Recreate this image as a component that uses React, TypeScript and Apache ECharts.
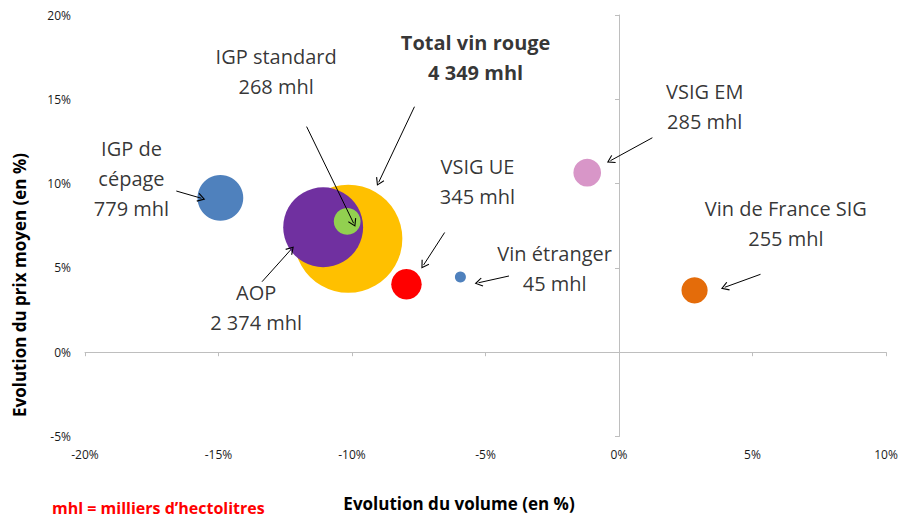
import React, { useEffect, useRef } from 'react';
import * as echarts from 'echarts';

// ---- Data ----
const categories = ['Total vin rouge', 'AOP', 'IGP standard', 'IGP de cépage', 'VSIG UE', 'Vin étranger', 'VSIG EM', 'Vin de France SIG'];
const volumeChange = [-10.14, -11.08, -10.18, -14.93, -7.96, -5.94, -1.19, 2.83]; // % x
const priceChange = [6.73, 7.41, 7.76, 9.15, 4.03, 4.46, 10.65, 3.67]; // % y
const volumes = [4349, 2374, 268, 779, 345, 45, 285, 255]; // mhl

const xTicks = { min: -20, max: 10, interval: 5 };
const yTicks = { min: -5, max: 20, interval: 5 };

// ---- Styles ----
const bubbleColors = ['#FFC000', '#7030A0', '#92D050', '#4F81BD', '#FF0000', '#4F81BD', '#D896C8', '#E46C0A'];

// ---- Annotations (data coordinates) ----
const labelNames = ['Total vin rouge', 'AOP', 'IGP standard', 'IGP de\ncépage', 'VSIG UE', 'Vin étranger', 'VSIG EM', 'Vin de France SIG'];
const labelPos: [number, number][] = [
  [-5.37, 17.48],
  [-13.59, 2.68],
  [-12.84, 16.62],
  [-18.26, 10.3],
  [-5.3, 10.15],
  [-2.41, 4.96],
  [3.21, 14.55],
  [6.25, 7.66],
];
const arrowFrom: [number, number][] = [
  [-7.66, 14.56],
  [-13.37, 4.18],
  [-11.7, 13.38],
  [-16.58, 9.56],
  [-6.53, 7.1],
  [-4.12, 4.52],
  [1.25, 12.72],
  [5.3, 4.62],
];
const arrowTo: [number, number][] = [
  [-9.0, 10.08],
  [-12.28, 6.1],
  [-9.94, 7.65],
  [-15.64, 9.13],
  [-7.32, 5.17],
  [-5.26, 4.12],
  [-0.32, 11.36],
  [3.96, 3.85],
];

const FONT = 'Open Sans';
const fmtVol = (v: number) => String(v).replace(/\B(?=(\d{3})+(?!\d))/g, ' ');
const chevron = 'path://M5,0L10,7.3L9,8L5,2.1L1,8L0,7.3Z';

export default function App() {
  const ref = useRef<HTMLDivElement>(null);
  useEffect(() => {
    document.body.style.margin = '0';
    const chart = echarts.init(ref.current!, null, { renderer: 'svg' });
    const axisLabelStyle = { color: '#1a1a1a', fontSize: 12, fontFamily: FONT };
    const option: any = {
      animation: false,
      grid: { left: 85, right: 15, top: 15, bottom: 82.5, containLabel: false },
      xAxis: [
        {
          type: 'value', ...xTicks, position: 'bottom',
          axisLine: { show: false, onZero: false }, axisTick: { show: false }, splitLine: { show: false },
          axisLabel: { ...axisLabelStyle, formatter: '{value}%', margin: 12 },
        },
        {
          type: 'value', ...xTicks, position: 'top',
          axisLine: { show: true, onZero: true, lineStyle: { color: '#BEBEBE', width: 1 } },
          axisTick: { show: true, inside: true, length: 4, lineStyle: { color: '#BEBEBE' } },
          axisLabel: { show: false }, splitLine: { show: false },
        },
      ],
      yAxis: [
        {
          type: 'value', ...yTicks, position: 'left',
          axisLine: { show: false, onZero: false }, axisTick: { show: false }, splitLine: { show: false },
          axisLabel: { ...axisLabelStyle, formatter: '{value}%', margin: 14 },
        },
        {
          type: 'value', ...yTicks, position: 'right',
          axisLine: { show: true, onZero: true, lineStyle: { color: '#BEBEBE', width: 1 } },
          axisTick: { show: true, inside: true, length: 4, lineStyle: { color: '#BEBEBE' } },
          axisLabel: { show: false }, splitLine: { show: false },
        },
      ],
      series: [
        {
          type: 'scatter',
          xAxisIndex: 0, yAxisIndex: 0,
          silent: true,
          symbolSize: (val: number[]) => 1.64 * Math.sqrt(val[2]),
          data: categories.map((c, i) => ({
            name: c,
            value: [volumeChange[i], priceChange[i], volumes[i]],
            itemStyle: { color: bubbleColors[i], opacity: 1 },
          })),
          z: 2,
        },
        {
          type: 'scatter',
          xAxisIndex: 0, yAxisIndex: 0,
          silent: true,
          symbolSize: 1,
          itemStyle: { color: 'rgba(0,0,0,0)' },
          label: {
            show: true, position: 'inside', formatter: '{b}', color: '#000',
            fontSize: 20, fontFamily: FONT, lineHeight: 30, align: 'center', verticalAlign: 'middle',
          },
          data: labelNames.map((n, i) => ({
            name: `${n}\n${fmtVol(volumes[i])} mhl`,
            value: labelPos[i],
            label: i === 0 ? { fontWeight: 'bold' } : undefined,
          })),
          markLine: {
            silent: true,
            symbol: ['none', chevron],
            symbolSize: [9, 8],
            label: { show: false },
            lineStyle: { color: '#000', width: 1, type: 'solid' },
            emphasis: { disabled: true },
            data: arrowFrom.map((f, i) => [{ coord: f }, { coord: arrowTo[i] }]),
          },
          z: 3,
        },
      ],
      graphic: [
        {
          type: 'text', x: 459, y: 503,
          style: { text: 'Evolution du volume (en %)', fontSize: 17, fontWeight: 'bold', fontFamily: FONT, fill: '#000', align: 'center', verticalAlign: 'middle' },
        },
        {
          type: 'text', x: 19, y: 285, rotation: Math.PI / 2,
          style: { text: 'Evolution du prix moyen (en %)', fontSize: 17, fontWeight: 'bold', fontFamily: FONT, fill: '#000', align: 'center', verticalAlign: 'middle' },
        },
        {
          type: 'text', x: 52, y: 508,
          style: { text: 'mhl = milliers d’hectolitres', fontSize: 16, fontWeight: 'bold', fontFamily: FONT, fill: '#FF0000', align: 'left', verticalAlign: 'middle' },
        },
      ],
    };
    chart.setOption(option);
    return () => chart.dispose();
  }, []);
  return <div ref={ref} style={{ width: 901, height: 519 }} />;
}
